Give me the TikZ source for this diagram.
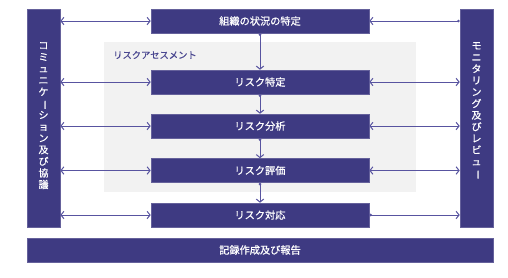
\documentclass[tikz,border=0pt]{standalone}
\usepackage{fontspec}
\usepackage{graphicx}
\setmainfont{Noto Sans CJK JP}
\newfontfamily\bfont{Noto Sans CJK JP}[FakeBold=0.7]
\usetikzlibrary{arrows.meta}
\definecolor{boxc}{HTML}{3E3A82}
\definecolor{linec}{HTML}{5854A0}
\definecolor{grayc}{HTML}{F2F2F2}
\definecolor{labc}{HTML}{4A4790}
\newcommand{\vbar}{\rotatebox[origin=c]{-90}{ー}}
\begin{document}
\begin{tikzpicture}[x=1pt,y=-1pt,
  proc/.style={draw=boxc!80!white,line width=0.6pt,fill=boxc,text=white,minimum width=218pt,minimum height=24pt,inner sep=0pt,font=\bfont\fontsize{10.2}{12}\selectfont},
  side/.style={draw=boxc!80!white,line width=0.6pt,fill=boxc,text=white,minimum width=33pt,minimum height=218pt,inner sep=0pt},
  vtext/.style={align=center,text=white,font=\bfont\fontsize{10}{11.6}\selectfont,anchor=north,inner sep=0pt},
  conn/.style={draw=linec,line width=1pt},
  dbl/.style={conn,{Straight Barb[length=3pt,width=7.5pt]}-{Straight Barb[length=3pt,width=7.5pt]}},
  single/.style={conn,{Circle[length=2.5pt]}-{Straight Barb[length=3pt,width=7.5pt]}}
]
\useasboundingbox (0,0) rectangle (508,277);
\fill[grayc] (104,42) rectangle (416,192);
\node[anchor=west,inner sep=0pt,text=labc,font=\bfont\fontsize{9.3}{11}\selectfont] (lab) at (113,55) {リスクアセスメント};
\node[proc] (b1) at (260,21) {組織の状況の特定};
\node[proc] (b2) at (260,82) {リスク特定};
\node[proc] (b3) at (260,126) {リスク分析};
\node[proc] (b4) at (260,170.5) {リスク評価};
\node[proc] (b5) at (260,215) {リスク対応};
\node[side] (L) at (43.5,118) {};
\node[side] (R) at (476.5,118) {};
\node[vtext] (Lt) at (43.5,42) {コ\\ミ\\ュ\\ニ\\ケ\\\vbar\\シ\\ョ\\ン\\及\\び\\協\\議};
\node[vtext] (Rt) at (476.5,42) {モ\\ニ\\タ\\リ\\ン\\グ\\及\\び\\レ\\ビ\\ュ\\\vbar};
\node[proc,minimum width=466pt] (bot) at (260,250) {記録作成及び報告};
\foreach \b in {b1,b2,b3,b4,b5}{
  \draw[dbl] (\b.west -| L.east) -- (\b.west);
}
\draw[single] (b1.east -| R.west) -- (b1.east);
\foreach \b in {b2,b3,b4}{
  \draw[dbl] (\b.east) -- (\b.east -| R.west);
}
\draw[single] (b5.east) -- (b5.east -| R.west);
\draw[single] (b1.south) -- (b2.north);
\draw[single] (b2.south) -- (b3.north);
\draw[single] (b3.south) -- (b4.north);
\draw[single] (b4.south) -- (b5.north);
\end{tikzpicture}
\end{document}
